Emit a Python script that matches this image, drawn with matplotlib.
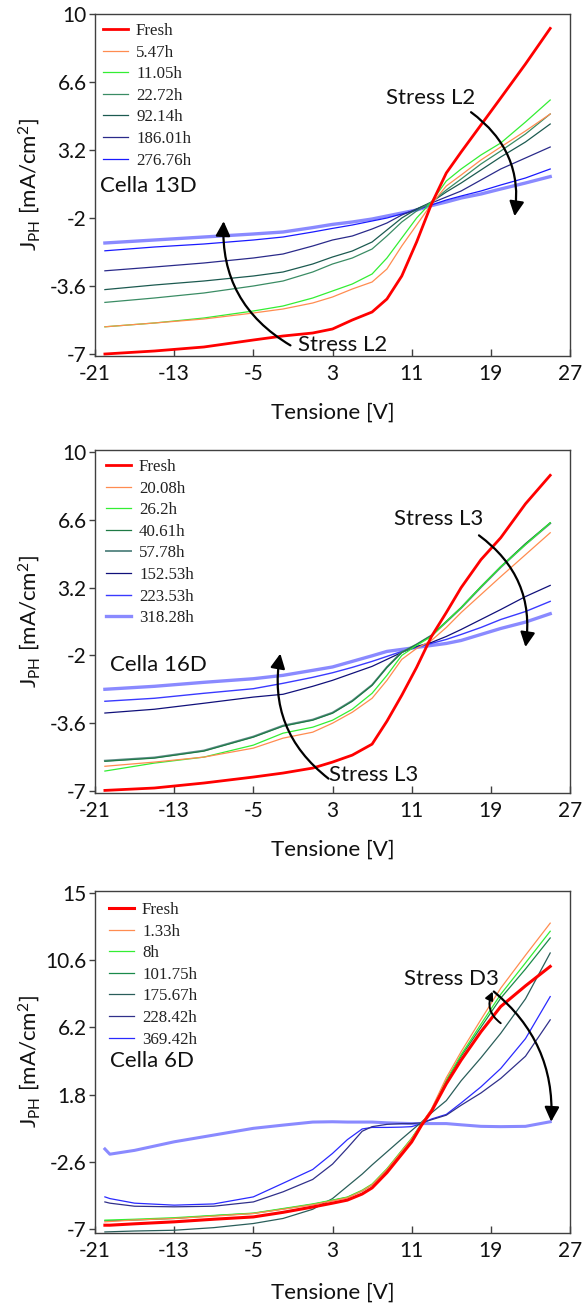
import matplotlib
matplotlib.use("Agg")
import matplotlib.pyplot as plt

plt.rcParams['font.family'] = ['Lato', 'DejaVu Sans']
plt.rcParams['mathtext.default'] = 'regular'

# ---------------- data ----------------
# Voltage grid (V) for cells 13D and 16D
v_grid = [-20, -15, -10, -5, -2, 1, 3, 5, 7, 8.5, 10, 11.5, 13, 14.5, 16, 18, 20, 22.5, 25]

# Cella 13D, Stress L2
c13_labels = ['Fresh', '5.47h', '11.05h', '22.72h', '92.14h', '186.01h', '276.76h']
c13_fresh = [-7.0, -6.85, -6.65, -6.3, -6.1, -5.95, -5.75, -5.3, -4.9, -4.25, -3.1, -1.4, 0.5, 2.05, 3.1, 4.45, 5.8, 7.5, 9.28]
c13_h5 = [-5.64, -5.45, -5.25, -4.95, -4.75, -4.45, -4.15, -3.75, -3.4, -2.75, -1.6, -0.55, 0.5, 1.4, 1.95, 2.7, 3.35, 4.15, 5.0]
c13_h11 = [-5.64, -5.45, -5.2, -4.85, -4.6, -4.2, -3.85, -3.5, -3.0, -2.2, -1.2, -0.2, 0.6, 1.65, 2.25, 2.95, 3.55, 4.6, 5.7]
c13_h22 = [-4.42, -4.2, -3.95, -3.6, -3.35, -2.9, -2.5, -2.2, -1.75, -1.1, -0.4, 0.15, 0.6, 1.2, 1.75, 2.5, 3.15, 4.0, 5.0]
c13_h92 = [-3.78, -3.55, -3.35, -3.1, -2.9, -2.5, -2.15, -1.85, -1.4, -0.8, -0.2, 0.25, 0.6, 1.1, 1.55, 2.2, 2.85, 3.6, 4.5]
c13_h186 = [-2.84, -2.65, -2.45, -2.2, -2.0, -1.6, -1.3, -1.1, -0.75, -0.45, -0.05, 0.25, 0.55, 0.85, 1.15, 1.7, 2.25, 2.8, 3.35]
c13_h276 = [-1.84, -1.65, -1.5, -1.3, -1.15, -0.9, -0.72, -0.55, -0.35, -0.2, 0.0, 0.2, 0.45, 0.7, 0.9, 1.15, 1.45, 1.8, 2.25]
c13_last = [-1.45, -1.3, -1.15, -1.0, -0.9, -0.68, -0.52, -0.4, -0.25, -0.1, 0.05, 0.2, 0.42, 0.6, 0.8, 1.0, 1.25, 1.55, 1.87]

# Cella 16D, Stress L3
c16_labels = ['Fresh', '20.08h', '26.2h', '40.61h', '57.78h', '152.53h', '223.53h', '318.28h']
c16_fresh = [-6.97, -6.85, -6.6, -6.3, -6.1, -5.85, -5.55, -5.2, -4.65, -3.5, -2.2, -0.8, 0.75, 1.95, 3.2, 4.6, 5.7, 7.4, 8.83]
c16_h20 = [-5.76, -5.55, -5.3, -4.85, -4.35, -4.05, -3.6, -3.05, -2.35, -1.45, -0.4, 0.15, 0.55, 1.2, 1.95, 2.85, 3.75, 4.85, 5.95]
c16_h26 = [-6.0, -5.6, -5.3, -4.7, -4.1, -3.8, -3.45, -2.9, -2.1, -1.2, -0.2, 0.3, 0.75, 1.5, 2.2, 3.25, 4.25, 5.35, 6.45]
c16_h40 = [-5.51, -5.35, -5.0, -4.3, -3.75, -3.45, -3.1, -2.5, -1.7, -0.8, -0.05, 0.35, 0.8, 1.5, 2.2, 3.25, 4.25, 5.4, 6.45]
c16_h57 = [-5.48, -5.32, -4.97, -4.27, -3.72, -3.42, -3.07, -2.47, -1.68, -0.79, -0.04, 0.35, 0.8, 1.48, 2.18, 3.22, 4.22, 5.37, 6.42]
c16_h152 = [-3.09, -2.9, -2.6, -2.29, -2.15, -1.75, -1.45, -1.1, -0.75, -0.4, -0.05, 0.25, 0.45, 0.75, 1.1, 1.6, 2.1, 2.75, 3.31]
c16_h223 = [-2.5, -2.35, -2.1, -1.87, -1.6, -1.3, -1.07, -0.8, -0.5, -0.25, 0.0, 0.2, 0.4, 0.6, 0.85, 1.2, 1.6, 2.0, 2.51]
c16_h318 = [-1.9, -1.75, -1.55, -1.37, -1.2, -0.95, -0.78, -0.5, -0.22, 0.0, 0.1, 0.2, 0.3, 0.4, 0.55, 0.85, 1.15, 1.47, 1.89]

# Voltage grid (V) for cell 6D
v_grid6 = [-20, -19.5, -17, -13, -9, -5, -2, 1, 3, 4.5, 6, 7, 8.5, 10, 11, 12, 13, 14.5, 16, 18, 20, 22.5, 25]

# Cella 6D, Stress D3
c6_labels = ['Fresh', '1.33h', '8h', '101.75h', '175.67h', '228.42h', '369.42h']
c6_fresh = [-6.74, -6.74, -6.65, -6.52, -6.35, -6.2, -5.9, -5.55, -5.3, -5.1, -4.7, -4.3, -3.3, -2.1, -1.3, -0.2, 0.7, 2.5, 4.05, 5.9, 7.55, 8.9, 10.17]
c6_h1 = [-6.52, -6.5, -6.4, -6.3, -6.15, -5.98, -5.7, -5.4, -5.15, -4.95, -4.5, -4.1, -3.1, -1.9, -1.1, -0.1, 0.85, 2.9, 4.6, 6.7, 8.75, 10.9, 13.0]
c6_h8 = [-6.41, -6.4, -6.35, -6.25, -6.1, -5.95, -5.65, -5.35, -5.1, -4.9, -4.45, -4.05, -3.05, -1.85, -1.05, -0.1, 0.8, 2.75, 4.4, 6.4, 8.35, 10.4, 12.47]
c6_h101 = [-6.45, -6.45, -6.4, -6.3, -6.12, -5.97, -5.68, -5.38, -5.12, -4.92, -4.5, -4.1, -3.1, -1.9, -1.1, -0.1, 0.75, 2.65, 4.3, 6.2, 8.1, 10.0, 12.03]
c6_h175 = [-7.18, -7.17, -7.12, -7.07, -6.9, -6.63, -6.3, -5.7, -5.0, -4.2, -3.4, -2.8, -1.95, -1.1, -0.55, 0.0, 0.6, 1.4, 2.7, 4.2, 5.8, 8.05, 11.05]
c6_h228 = [-5.22, -5.3, -5.5, -5.54, -5.5, -5.22, -4.56, -3.75, -2.75, -1.7, -0.6, -0.3, -0.15, -0.1, -0.1, -0.05, 0.15, 0.45, 1.1, 1.9, 2.85, 4.3, 6.68]
c6_h369 = [-4.89, -5.0, -5.3, -5.43, -5.35, -4.89, -4.0, -3.1, -2.05, -1.15, -0.45, -0.35, -0.35, -0.33, -0.3, -0.1, 0.2, 0.5, 1.25, 2.3, 3.5, 5.45, 8.2]
c6_last = [-1.76, -2.1, -1.85, -1.29, -0.85, -0.41, -0.2, 0.0, 0.02, 0.0, 0.0, 0.0, -0.05, -0.08, -0.1, -0.1, -0.1, -0.1, -0.18, -0.28, -0.3, -0.28, 0.02]

x_ticks = [-21, -13, -5, 3, 11, 19, 27]
y_ticks_a = [10, 6.6, 3.2, -0.2, -3.6, -7]
y_ticklabels_a = ['10', '6.6', '3.2', '-2', '-3.6', '-7']
y_ticks_b = [15, 10.6, 6.2, 1.8, -2.6, -7]
y_ticklabels_b = ['15', '10.6', '6.2', '1.8', '-2.6', '-7']

# ---------------- styling ----------------
W, H = 588, 1309
fig = plt.figure(figsize=(W / 100, H / 100), dpi=100)

TXT = '#111111'
SPINE = '#404040'


def make_axes(top_px, bottom_px):
    left, right = 95, 570
    return fig.add_axes([left / W, 1 - bottom_px / H, (right - left) / W, (bottom_px - top_px) / H])


def style_axes(ax, ylim, yticks, yticklabels, xlab_y):
    ax.set_xlim(-21, 27)
    ax.set_ylim(*ylim)
    ax.set_xticks(x_ticks)
    ax.set_xticklabels([str(t) for t in x_ticks])
    ax.set_yticks(yticks)
    ax.set_yticklabels(yticklabels)
    for s in ax.spines.values():
        s.set_color(SPINE)
        s.set_linewidth(1.0)
    ax.tick_params(axis='x', direction='in', length=5, width=1, color=SPINE,
                   labelsize=15, labelcolor=TXT, pad=6)
    ax.tick_params(axis='y', direction='out', length=4, width=1, color=SPINE,
                   labelsize=15, labelcolor=TXT, pad=2)
    ax.set_xlabel('Tensione [V]', fontsize=16, color=TXT)
    ax.set_ylabel('J$_{PH}$ [mA/cm$^2$]', fontsize=16, color=TXT)
    ax.xaxis.set_label_coords(0.5, xlab_y)
    ax.yaxis.set_label_coords(-0.112, 0.5)


def curved_arrow(ax, start, end, rad, ms=22, lw=1.6):
    ax.annotate('', xy=end, xytext=start,
                arrowprops=dict(arrowstyle='-|>', connectionstyle=f'arc3,rad={rad}',
                                color='black', lw=lw, mutation_scale=ms,
                                shrinkA=0, shrinkB=0))


def add_legend(ax, handles, x_off_px, y_off_px, height_px):
    leg = ax.legend(handles=handles, loc='upper left',
                    bbox_to_anchor=(x_off_px / 475, 1 - y_off_px / height_px),
                    frameon=False, borderpad=0, borderaxespad=0,
                    handlelength=1.5, handletextpad=0.45, labelspacing=0.33,
                    prop={'family': 'Liberation Serif', 'size': 12.2})
    for t in leg.get_texts():
        t.set_color('#222222')
    return leg


def draw_series(ax, xs, series, colors, widths, labels):
    handles = []
    for ys, c, w, lab in zip(series, colors, widths, labels):
        ln, = ax.plot(xs, ys, color=c, lw=w, solid_joinstyle='round')
        if lab is not None:
            ln.set_label(lab)
            handles.append(ln)
    return handles


# ---------------- Cella 13D ----------------
ax1 = make_axes(14, 356)
style_axes(ax1, (-7.1, 10), y_ticks_a, y_ticklabels_a, -0.137)
h = draw_series(
    ax1, v_grid,
    [c13_last, c13_h276, c13_h186, c13_h92, c13_h22, c13_h11, c13_h5, c13_fresh],
    ['#8a8aff', '#1a1aff', '#2a2a8a', '#1c5a50', '#3a8c64', '#33ee33', '#ff8c50', '#ff0000'],
    [2.4, 0.9, 0.9, 0.9, 0.9, 0.9, 0.9, 2.0],
    [None, c13_labels[6], c13_labels[5], c13_labels[4], c13_labels[3],
     c13_labels[2], c13_labels[1], c13_labels[0]])
add_legend(ax1, h[::-1], 8, 9, 342)
ax1.text(-20.5, 1.42, 'Cella 13D', fontsize=16, color=TXT, va='center', ha='left')
ax1.text(8.4, 5.82, 'Stress L2', fontsize=16, color=TXT, va='center', ha='left')
ax1.text(-0.44, -6.55, 'Stress L2', fontsize=16, color=TXT, va='center', ha='left')
curved_arrow(ax1, (17.0, 5.09), (21.4, -0.11), -0.3)
curved_arrow(ax1, (-1.25, -6.57), (-8.0, -0.36), -0.3)

# ---------------- Cella 16D ----------------
ax2 = make_axes(450, 793)
style_axes(ax2, (-7.1, 10.1), y_ticks_a, y_ticklabels_a, -0.137)
h = draw_series(
    ax2, v_grid,
    [c16_h318, c16_h223, c16_h152, c16_h57, c16_h40, c16_h26, c16_h20, c16_fresh],
    ['#8a8aff', '#3a3aff', '#10107a', '#5f8c88', '#1e7a45', '#33ee33', '#ff8c50', '#ff0000'],
    [2.4, 1.0, 0.9, 1.4, 0.9, 0.9, 0.9, 2.0],
    [c16_labels[7], c16_labels[6], c16_labels[5], c16_labels[4], c16_labels[3],
     c16_labels[2], c16_labels[1], c16_labels[0]])
add_legend(ax2, h[::-1], 11, 9, 343)
ax2.text(-19.5, -0.67, 'Cella 16D', fontsize=16, color=TXT, va='center', ha='left')
ax2.text(9.2, 6.62, 'Stress L3', fontsize=16, color=TXT, va='center', ha='left')
ax2.text(2.6, -6.21, 'Stress L3', fontsize=16, color=TXT, va='center', ha='left')
curved_arrow(ax2, (17.8, 5.82), (22.5, 0.22), -0.3)
curved_arrow(ax2, (2.6, -6.38), (-2.27, -0.11), -0.3)

# ---------------- Cella 6D ----------------
ax3 = make_axes(891, 1233)
style_axes(ax3, (-7.25, 15.1), y_ticks_b, y_ticklabels_b, -0.145)
h = draw_series(
    ax3, v_grid6,
    [c6_last, c6_h369, c6_h228, c6_h175, c6_h101, c6_h8, c6_h1, c6_fresh],
    ['#8a8aff', '#2a2aff', '#30308a', '#2a5e5a', '#1a8a4a', '#33ee33', '#ff8c50', '#ff0000'],
    [2.2, 0.9, 0.9, 0.9, 0.9, 0.9, 0.9, 2.2],
    [None, c6_labels[6], c6_labels[5], c6_labels[4], c6_labels[3],
     c6_labels[2], c6_labels[1], c6_labels[0]])
add_legend(ax3, h[::-1], 14, 11, 342)
ax3.text(-19.5, 4.02, 'Cella 6D', fontsize=16, color=TXT, va='center', ha='left')
ax3.text(10.2, 9.37, 'Stress D3', fontsize=16, color=TXT, va='center', ha='left')
curved_arrow(ax3, (20.0, 6.46), (19.2, 8.53), -0.4, ms=12, lw=1.4)
curved_arrow(ax3, (19.3, 8.53), (25.1, 0.02), -0.25)

fig.savefig('out.png', dpi=100)
